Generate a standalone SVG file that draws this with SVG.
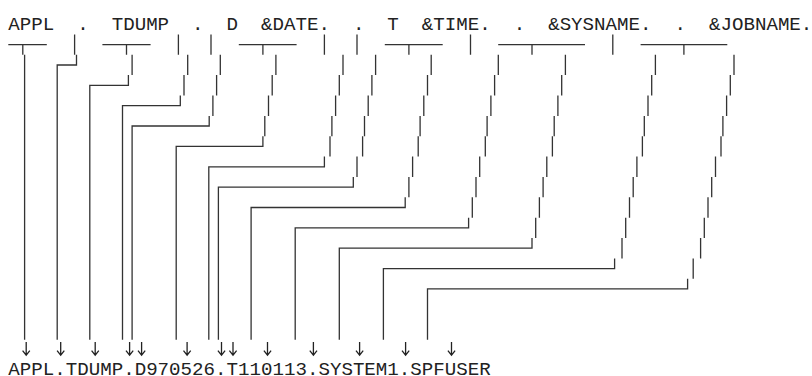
<svg xmlns="http://www.w3.org/2000/svg" width="812" height="376" viewBox="0 0 812 376">
<style>
.t{font-family:"Liberation Mono","DejaVu Sans Mono",monospace;font-size:19.15px;fill:#222;white-space:pre}
.c{fill:none;stroke:#333;stroke-width:1.3;stroke-linecap:butt;stroke-linejoin:miter}
.ar{fill:none;stroke:#222;stroke-width:1.3;stroke-linecap:butt;stroke-linejoin:miter}
</style>
<defs>
<path id="dn" class="ar" d="M0 -13.3V0M-3.6 -4.6L0 -0.2L3.6 -4.6"/>
</defs>
<rect width="812" height="376" fill="#fff"/>
<g id="template">
<text class="t" x="8.3" y="29.6" xml:space="preserve">APPL  .  TDUMP  .  D  &amp;DATE.  .  T  &amp;TIME.  .  &amp;SYSNAME.  .  &amp;JOBNAME.</text>
</g>
<g id="connectors">
<path class="c" d="M8.3 44.6H46.8M22.8 44.6V54.8M24.6 54.8V339.8"/>
<path class="c" d="M74.6 34.4V54.8M76.5 54.8V65H57.2V339.8"/>
<path class="c" d="M102.4 44.6H150.6M126.5 44.6V54.8M132.1 54.8V75.1M128.4 75.1V85.3H89.8V339.8"/>
<path class="c" d="M178.4 34.4V54.8M187.7 54.8V75.1M184 75.1V95.5M180.3 95.5V105.7H122.5V339.8"/>
<path class="c" d="M211 34.4V54.8M220.3 54.8V75.1M216.6 75.1V95.5M212.9 95.5V115.9M209.2 115.9V126H132.1V339.8"/>
<path class="c" d="M238.8 44.6H296.6M262.9 44.6V54.8M275.9 54.8V75.1M272.2 75.1V95.5M268.5 95.5V115.9M264.8 115.9V136.2M262.9 136.2V146.4H176.2V339.8"/>
<path class="c" d="M324.4 34.4V54.8M343 54.8V75.1M339.3 75.1V95.5M335.6 95.5V115.9M331.9 115.9V136.2M330 136.2V156.6M324.4 156.6V166.8H208.8V339.8"/>
<path class="c" d="M357 34.4V54.8M375.6 54.8V75.1M371.9 75.1V95.5M368.2 95.5V115.9M364.5 115.9V136.2M362.6 136.2V156.6M357 156.6V176.9M353.3 176.9V187.1H218.4V339.8"/>
<path class="c" d="M384.8 44.6H442.7M408.9 44.6V54.8M431.2 54.8V75.1M427.5 75.1V95.5M423.8 95.5V115.9M420.1 115.9V136.2M418.2 136.2V156.6M412.6 156.6V176.9M408.9 176.9V197.3M405.2 197.3V207.5H251.1V339.8"/>
<path class="c" d="M470.5 34.4V54.8M498.3 54.8V75.1M494.6 75.1V95.5M490.9 95.5V115.9M487.1 115.9V136.2M485.3 136.2V156.6M479.7 156.6V176.9M476 176.9V197.3M472.3 197.3V217.7M468.6 217.7V227.8H295.2V339.8"/>
<path class="c" d="M498.2 44.6H585M532 44.6V54.8M565.4 54.8V75.1M561.7 75.1V95.5M557.9 95.5V115.9M554.2 115.9V136.2M552.4 136.2V156.6M546.8 156.6V176.9M543.1 176.9V197.3M539.4 197.3V217.7M535.7 217.7V238M532 238V248.2H339.3V339.8"/>
<path class="c" d="M612.8 34.4V54.8M655.4 54.8V75.1M651.7 75.1V95.5M648 95.5V115.9M644.3 115.9V136.2M642.4 136.2V156.6M636.9 156.6V176.9M633.2 176.9V197.3M629.5 197.3V217.7M625.7 217.7V238M622 238V258.4M614.6 258.4V268.6H383.4V339.8"/>
<path class="c" d="M640.6 44.6H727.3M683.9 44.6V54.8M734 54.8V75.1M730.3 75.1V95.5M726.6 95.5V115.9M722.9 115.9V136.2M721 136.2V156.6M715.5 156.6V176.9M711.7 176.9V197.3M708 197.3V217.7M704.3 217.7V238M700.6 238V258.4M693.2 258.4V278.7M687.6 278.7V288.9H427.5V339.8"/>
<g id="arrows">
<use href="#dn" x="26.2" y="355.3"/>
<use href="#dn" x="60.7" y="355.3"/>
<use href="#dn" x="95.2" y="355.3"/>
<use href="#dn" x="129.6" y="355.3"/>
<use href="#dn" x="141.6" y="355.3"/>
<use href="#dn" x="187.1" y="355.3"/>
<use href="#dn" x="221.5" y="355.3"/>
<use href="#dn" x="233" y="355.3"/>
<use href="#dn" x="267.5" y="355.3"/>
<use href="#dn" x="313.4" y="355.3"/>
<use href="#dn" x="359.6" y="355.3"/>
<use href="#dn" x="405.6" y="355.3"/>
<use href="#dn" x="451.5" y="355.3"/>
</g>
</g>
<g id="result">
<text class="t" x="8.3" y="374.6">APPL.TDUMP.D970526.T110113.SYSTEM1.SPFUSER</text>
</g>
</svg>
